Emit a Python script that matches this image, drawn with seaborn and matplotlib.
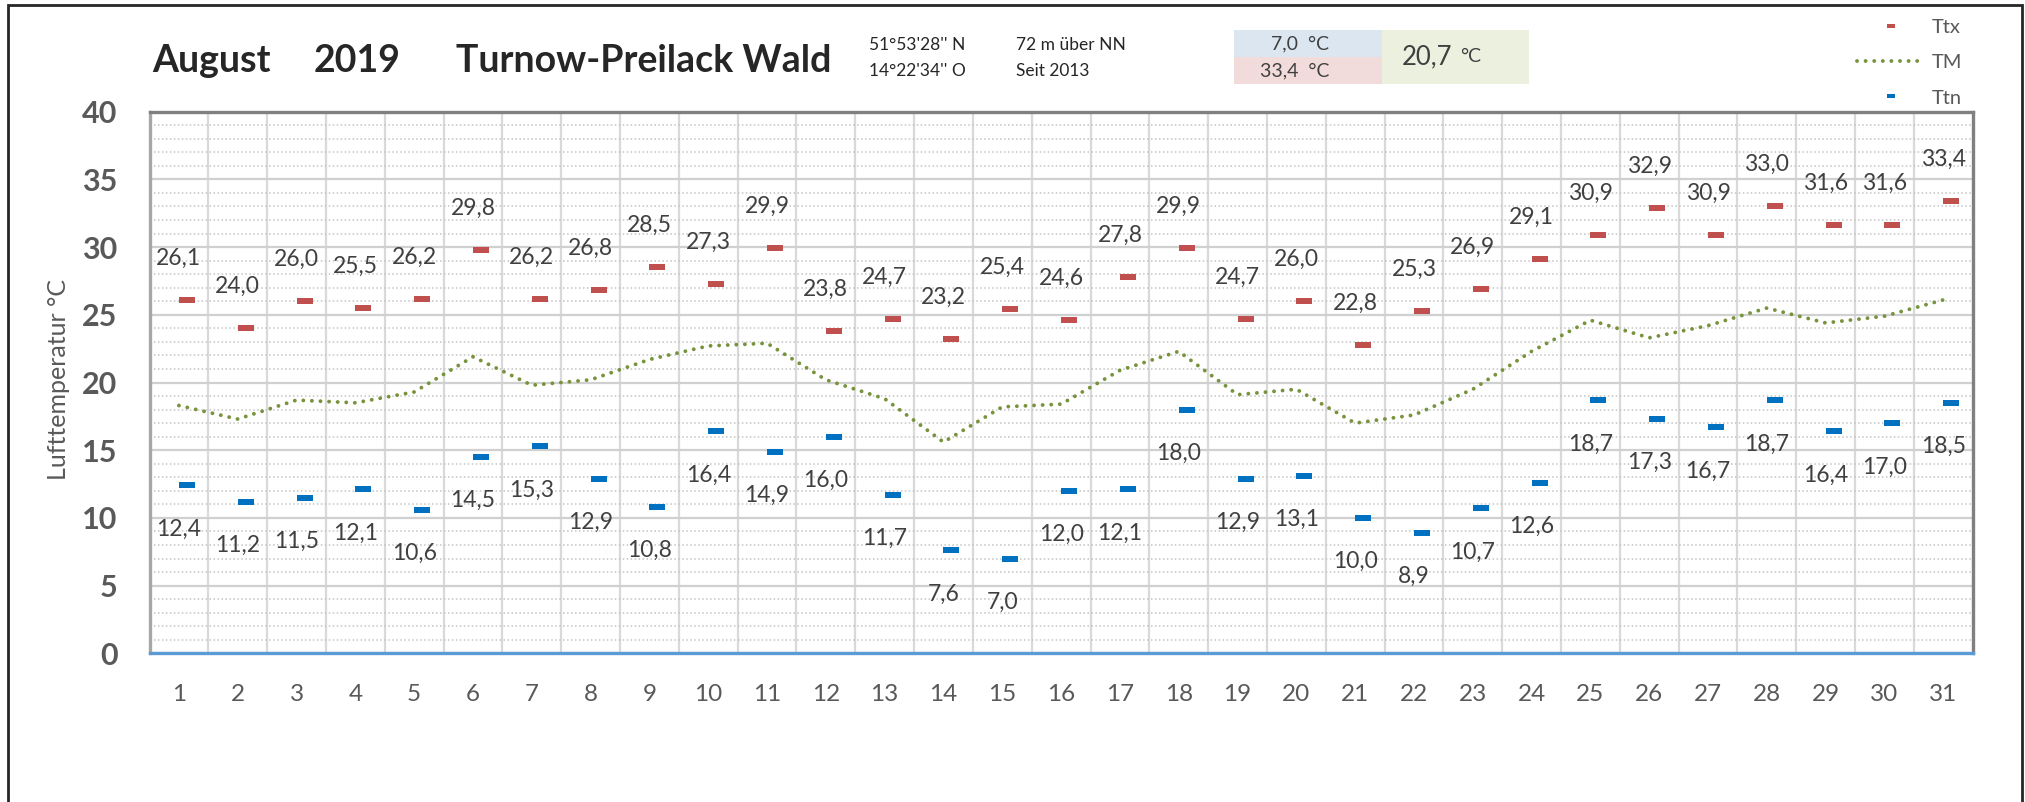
import matplotlib
matplotlib.use("Agg")
import matplotlib.pyplot as plt
import seaborn as sns
import pandas as pd
from matplotlib.path import Path
from matplotlib.patches import Rectangle
from matplotlib.lines import Line2D
from matplotlib.transforms import offset_copy
from matplotlib.ticker import MultipleLocator, FixedLocator

# daily values, August 2019, Turnow-Preilack Wald
days = list(range(1, 32))
ttx = [26.1, 24.0, 26.0, 25.5, 26.2, 29.8, 26.2, 26.8, 28.5, 27.3, 29.9,
       23.8, 24.7, 23.2, 25.4, 24.6, 27.8, 29.9, 24.7, 26.0, 22.8, 25.3,
       26.9, 29.1, 30.9, 32.9, 30.9, 33.0, 31.6, 31.6, 33.4]
ttn = [12.4, 11.2, 11.5, 12.1, 10.6, 14.5, 15.3, 12.9, 10.8, 16.4, 14.9,
       16.0, 11.7, 7.6, 7.0, 12.0, 12.1, 18.0, 12.9, 13.1, 10.0, 8.9,
       10.7, 12.6, 18.7, 17.3, 16.7, 18.7, 16.4, 17.0, 18.5]
tm = [18.3, 17.3, 18.7, 18.5, 19.3, 21.9, 19.8, 20.2, 21.7, 22.7, 22.9,
      20.2, 18.8, 15.6, 18.2, 18.4, 20.9, 22.3, 19.1, 19.5, 17.0, 17.6,
      19.5, 22.3, 24.6, 23.3, 24.2, 25.5, 24.4, 24.9, 26.1]

month, year, station = "August", "2019", "Turnow-Preilack Wald"
coords = ["51°53'28'' N", "14°22'34'' O"]
site_info = ["72 m über NN", "Seit 2013"]
month_min, month_max, month_mean = 7.0, 33.4, 20.7

W, H = 2025, 802


def de(v):
    return f"{v:.1f}".replace(".", ",")


def fx(px):
    return px / W


def fy(py):
    return 1 - py / H


sns.set_style("white")
plt.rcParams["font.family"] = ["Lato", "DejaVu Sans"]

df = pd.DataFrame({"Tag": days, "Ttx": ttx, "Ttn": ttn, "TM": tm})

fig = plt.figure(figsize=(W / 100, H / 100), dpi=100)
ax = fig.add_axes([fx(149.5), fy(653.3), fx(1972.7 - 149.5), (653.3 - 111.7) / H])

# flat dash marker like the excel one
bar = Path([(-0.5, -0.2), (0.5, -0.2), (0.5, 0.2), (-0.5, 0.2), (-0.5, -0.2)],
           [Path.MOVETO, Path.LINETO, Path.LINETO, Path.LINETO, Path.CLOSEPOLY])

shift = offset_copy(ax.transData, fig=fig, x=8, y=0, units="dots")
sns.scatterplot(data=df, x="Tag", y="Ttx", marker=bar, s=132, color="#C0504D",
                linewidth=0, ax=ax, legend=False, zorder=4)
ax.collections[-1].set_offset_transform(shift)
sns.scatterplot(data=df, x="Tag", y="Ttn", marker=bar, s=132, color="#0070C0",
                linewidth=0, ax=ax, legend=False, zorder=4)
ax.collections[-1].set_offset_transform(shift)

dots = (0, (0.01, 2.2))
sns.lineplot(data=df, x="Tag", y="TM", color="#77933C", lw=2.8, ax=ax, zorder=3)
ax.lines[-1].set_linestyle(dots)
ax.lines[-1].set_dash_capstyle("round")

for d, v in zip(days, ttx):
    ax.annotate(de(v), (d, v), xytext=(0, 30), textcoords="offset points",
                ha="center", va="center", fontsize=16.5, color="#404040")
for d, v in zip(days, ttn):
    ax.annotate(de(v), (d, v), xytext=(0, -31.5), textcoords="offset points",
                ha="center", va="center", fontsize=16.5, color="#404040")

ax.set_xlim(0.5, 31.5)
ax.set_ylim(0, 40)
ax.set_xticks(days)
ax.set_xticklabels([str(d) for d in days])
ax.xaxis.set_minor_locator(FixedLocator([d + 0.5 for d in days[:-1]]))
ax.yaxis.set_major_locator(MultipleLocator(5))
ax.yaxis.set_minor_locator(MultipleLocator(1))
ax.set_xlabel("")
ax.set_ylabel("")

ax.grid(which="major", axis="y", color="#D0D0D0", lw=1.6)
ax.grid(which="minor", axis="y", color="#C4C4C4", lw=1.1, linestyle=(0, (1, 1.6)))
ax.grid(which="minor", axis="x", color="#D9D9D9", lw=1.6)
ax.grid(which="major", axis="x", visible=False)
ax.set_axisbelow(True)

ax.tick_params(axis="y", which="major", direction="out", length=8, width=1.5,
               color="#A6A6A6", pad=15, labelsize=22, labelcolor="#595959")
ax.tick_params(axis="y", which="minor", direction="in", length=6.5, width=1.2,
               color="#A6A6A6")
ax.tick_params(axis="x", which="both", length=0, pad=22, labelsize=17.5,
               labelcolor="#595959")
for lbl in ax.get_yticklabels():
    lbl.set_fontweight("bold")

ax.spines["left"].set_color("#A6A6A6")
ax.spines["top"].set_color("#808080")
ax.spines["right"].set_color("#808080")
ax.spines["bottom"].set_color("#5B9BD5")
for s in ax.spines.values():
    s.set_linewidth(2.4)

fig.text(fx(58), fy(380), "Lufttemperatur °C", rotation=90, ha="center",
         va="center", fontsize=18, color="#595959")

# header
fig.text(fx(152), fy(61), month, fontsize=27, fontweight="bold", va="center")
fig.text(fx(314), fy(61), year, fontsize=27, fontweight="bold", va="center")
fig.text(fx(456), fy(61), station, fontsize=27, fontweight="bold", va="center")
fig.text(fx(869), fy(45), coords[0], fontsize=12.5, va="center")
fig.text(fx(869), fy(71), coords[1], fontsize=12.5, va="center")
fig.text(fx(1016), fy(45), site_info[0], fontsize=12.5, va="center")
fig.text(fx(1016), fy(71), site_info[1], fontsize=12.5, va="center")

for (x0, y0, x1, y1), c in [((1234, 30, 1382, 57), "#DCE6F1"),
                            ((1234, 57, 1382, 84), "#F2DCDB"),
                            ((1382, 30, 1529, 84), "#EBF1DE")]:
    fig.add_artist(Rectangle((fx(x0), fy(y1)), fx(x1 - x0), (y1 - y0) / H,
                             transform=fig.transFigure, color=c, lw=0))
fig.text(fx(1329), fy(44), de(month_min) + "  °C", fontsize=14, ha="right",
         va="center", color="#404040")
fig.text(fx(1329), fy(71), de(month_max) + "  °C", fontsize=14, ha="right",
         va="center", color="#404040")
fig.text(fx(1402), fy(57), de(month_mean), fontsize=18.5, va="center",
         color="#404040")
fig.text(fx(1460), fy(57), "°C", fontsize=14, va="center", color="#404040")

# legend
handles = [Line2D([], [], ls="", marker=bar, ms=5.5, color="#C0504D", mew=0),
           Line2D([], [], color="#77933C", lw=2.8, ls=dots,
                  dash_capstyle="round"),
           Line2D([], [], ls="", marker=bar, ms=5.5, color="#0070C0", mew=0)]
fig.legend(handles, ["Ttx", "TM", "Ttn"], loc="upper right",
           bbox_to_anchor=(fx(1962), fy(19)), frameon=False, fontsize=14.5,
           labelcolor="#595959", handlelength=3.4, handletextpad=0.3,
           labelspacing=0.9, borderpad=0, borderaxespad=0)

# outer frame (its bottom edge lies below the picture)
fig.add_artist(Rectangle((fx(8), fy(812)), fx(2022 - 8), (812 - 5) / H,
                         transform=fig.transFigure, fill=False,
                         edgecolor="#262626", lw=2))

fig.savefig("out.png", dpi=100)
